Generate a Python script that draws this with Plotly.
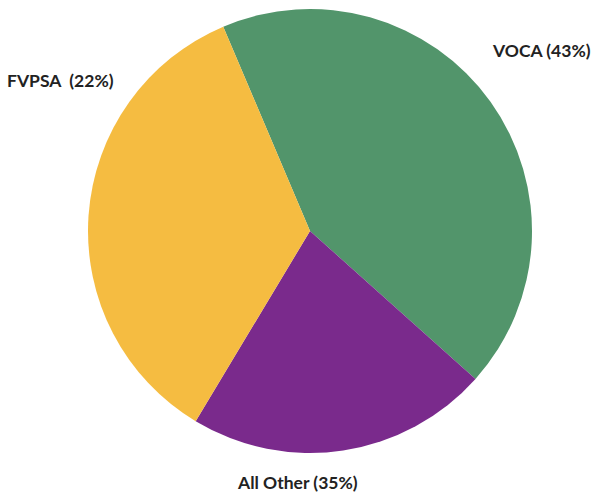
import plotly.graph_objects as go

categories = ["VOCA", "All Other", "FVPSA"]
values = [43, 22, 35]
label_texts = ["VOCA (43%)", "All Other (35%)", "FVPSA  (22%)"]
colors = ["#52956B", "#7A2A8C", "#F5BC41"]

W, H = 592, 493
cx, cy, r = 310, 231, 222

fig = go.Figure(go.Pie(
    labels=categories,
    values=values,
    sort=False,
    direction="clockwise",
    rotation=-23,
    marker=dict(colors=colors, line=dict(width=0)),
    textinfo="none",
    hoverinfo="label+percent",
    domain=dict(x=[(cx - r) / W, (cx + r) / W], y=[1 - (cy + r) / H, 1 - (cy - r) / H]),
    showlegend=False,
))

label_pos = [(541, 51), (297, 482), (60, 80)]
for txt, (x, y) in zip(label_texts, label_pos):
    fig.add_annotation(
        x=x / W, y=1 - y / H, xref="paper", yref="paper",
        text=txt, showarrow=False,
        font=dict(family="Lato", size=17.5, color="#222222", weight="bold"),
        xanchor="center", yanchor="middle",
    )

fig.update_layout(
    width=W, height=H,
    margin=dict(l=0, r=0, t=0, b=0),
    paper_bgcolor="white", plot_bgcolor="white",
)

fig.write_html(
    "out.html",
    config={"displayModeBar": False},
    post_script="document.body.style.margin='0';document.documentElement.style.overflow='hidden';",
)
